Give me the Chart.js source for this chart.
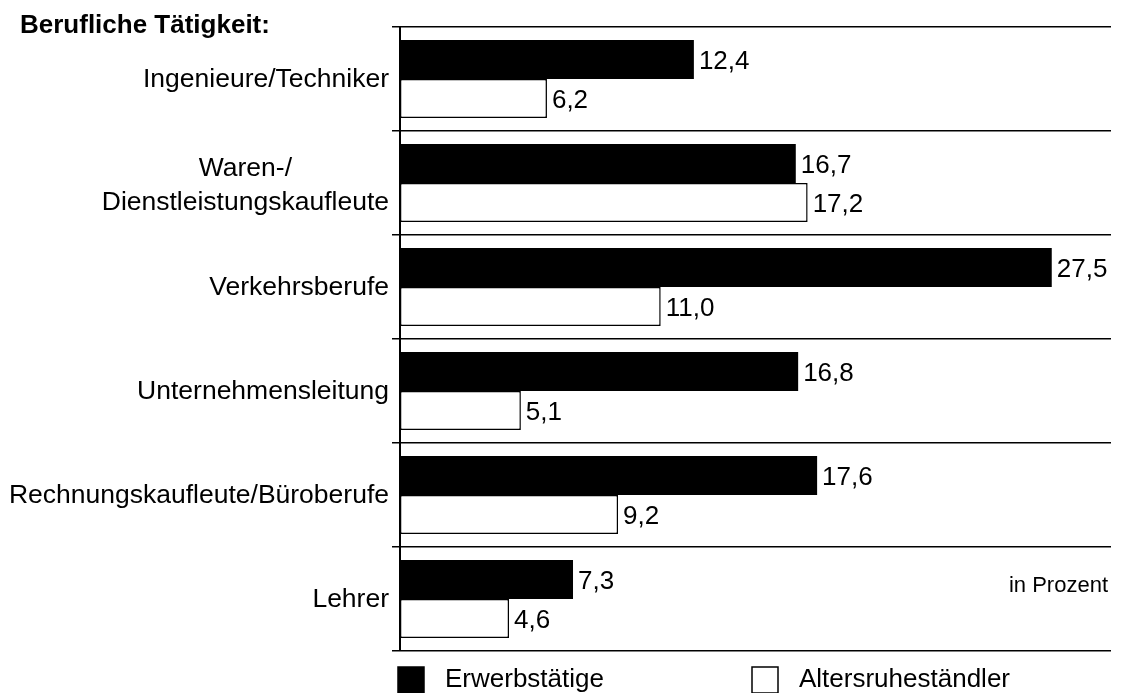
<!DOCTYPE html>
<html>
<head>
<meta charset="utf-8">
<script src="https://cdn.jsdelivr.net/npm/chart.js@4/dist/chart.umd.min.js"></script>
<style>
html,body{margin:0;padding:0;background:#fff;}
#wrap{width:1122px;height:693px;}
</style>
</head>
<body>
<div id="wrap"><canvas id="c" width="1122" height="693"></canvas></div>
<script>
const categories = [
  ['Ingenieure/Techniker'],
  ['Waren-/', 'Dienstleistungskaufleute'],
  ['Verkehrsberufe'],
  ['Unternehmensleitung'],
  ['Rechnungskaufleute/Büroberufe'],
  ['Lehrer']
];
const erwerbstaetige = [12.4, 16.7, 27.5, 16.8, 17.6, 7.3];
const altersruhestaendler = [6.2, 17.2, 11.0, 5.1, 9.2, 4.6];
const seriesNames = ['Erwerbstätige', 'Altersruheständler'];
const titleText = 'Berufliche Tätigkeit:';
const unitText = 'in Prozent';

const FONT = '"Liberation Sans", Arial, sans-serif';
const fmt = v => v.toFixed(1).replace('.', ',');

const decorPlugin = {
  id: 'decor',
  afterDraw(chart) {
    const ctx = chart.ctx;
    const area = chart.chartArea;
    const yScale = chart.scales.y;
    ctx.save();
    ctx.fillStyle = '#000';
    // value labels
    ctx.font = '26px ' + FONT;
    ctx.textAlign = 'left';
    ctx.textBaseline = 'middle';
    chart.data.datasets.forEach((ds, di) => {
      const meta = chart.getDatasetMeta(di);
      meta.data.forEach((el, i) => {
        ctx.fillText(fmt(ds.data[i]), el.x + 5, el.y + 2);
      });
    });
    // category labels
    ctx.font = '26.5px ' + FONT;
    const rightX = 389;
    const lineH = 34;
    categories.forEach((lines, i) => {
      const cy = yScale.getPixelForValue(i) + (lines.length > 1 ? 3 : 1);
      const widths = lines.map(l => ctx.measureText(l).width);
      const blockW = Math.max(...widths);
      const cx = rightX - blockW / 2;
      ctx.textAlign = 'center';
      lines.forEach((l, li) => {
        const y = cy + (li - (lines.length - 1) / 2) * lineH;
        ctx.fillText(l, cx, y);
      });
    });
    // title
    ctx.font = 'bold 26px ' + FONT;
    ctx.textAlign = 'left';
    ctx.fillText(titleText, 20, 26);
    // unit
    ctx.font = '22px ' + FONT;
    ctx.textAlign = 'right';
    ctx.fillText(unitText, area.right - 3, 586);
    // legend
    ctx.font = '26px ' + FONT;
    ctx.textAlign = 'left';
    const legendX = [398, 752];
    const sq = 26;
    const legendY = 667;
    chart.data.datasets.forEach((ds, di) => {
      const x = legendX[di];
      ctx.fillStyle = ds.backgroundColor;
      ctx.fillRect(x, legendY, sq, sq);
      ctx.lineWidth = 1.5;
      ctx.strokeStyle = '#000';
      ctx.strokeRect(x, legendY, sq, sq);
      ctx.fillStyle = '#000';
      ctx.fillText(ds.label, x + sq + 21, legendY + 13);
    });
    ctx.restore();
  }
};

new Chart(document.getElementById('c'), {
  type: 'bar',
  data: {
    labels: categories.map(c => c.join(' ')),
    datasets: [
      {
        label: seriesNames[0],
        data: erwerbstaetige,
        backgroundColor: '#000000',
        borderWidth: 0,
        categoryPercentage: 0.75,
        barPercentage: 1.0
      },
      {
        label: seriesNames[1],
        data: altersruhestaendler,
        backgroundColor: '#ffffff',
        borderColor: '#000000',
        borderWidth: 1.5,
        borderSkipped: false,
        categoryPercentage: 0.75,
        barPercentage: 1.0
      }
    ]
  },
  options: {
    indexAxis: 'y',
    responsive: false,
    animation: false,
    layout: { padding: { left: 0, top: 27, right: 11, bottom: 42 } },
    plugins: {
      legend: { display: false },
      tooltip: { enabled: false },
      title: { display: false }
    },
    scales: {
      x: {
        display: false,
        min: 0,
        max: 30
      },
      y: {
        type: 'category',
        offset: true,
        grid: {
          offset: true,
          color: '#000',
          lineWidth: 1.5,
          tickLength: 8,
          drawTicks: true,
          drawOnChartArea: true
        },
        border: { display: true, color: '#000', width: 2 },
        ticks: { display: false },
        afterFit(scale) { scale.width = 400; }
      }
    }
  },
  plugins: [decorPlugin]
});
</script>
</body>
</html>
